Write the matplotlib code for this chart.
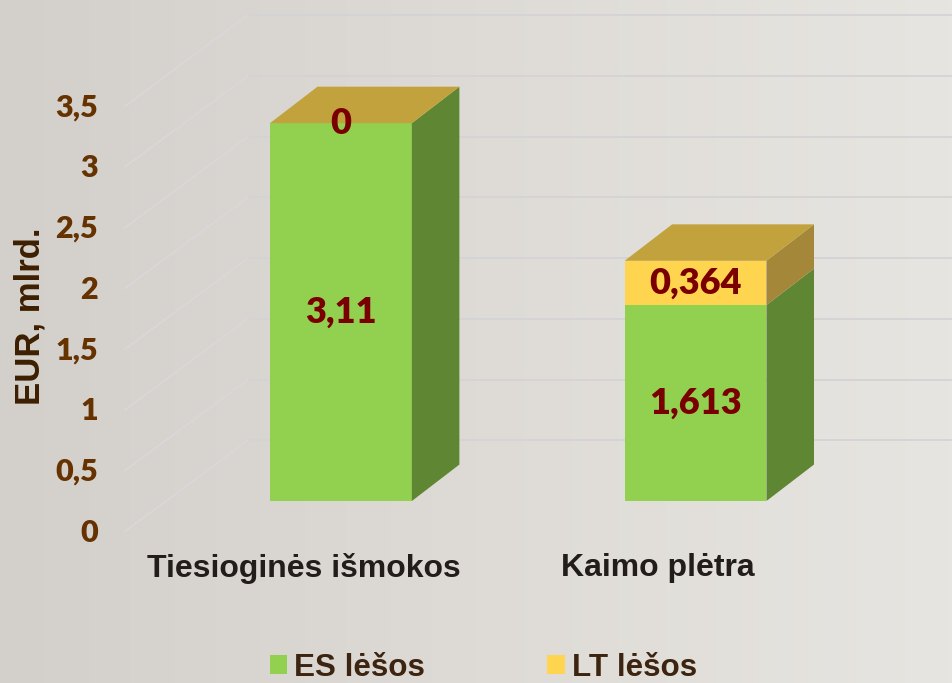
import numpy as np
import matplotlib.pyplot as plt
from matplotlib.patches import Polygon, Patch
from matplotlib.colors import LinearSegmentedColormap
from matplotlib.transforms import ScaledTranslation

categories = ['Tiesioginės išmokos', 'Kaimo plėtra']
es_values = [3.11, 1.613]
lt_values = [0.0, 0.364]
es_labels = ['3,11', '1,613']
lt_labels = ['0', '0,364']
y_ticks = [0, 0.5, 1, 1.5, 2, 2.5, 3, 3.5]
y_tick_labels = ['0', '0,5', '1', '1,5', '2', '2,5', '3', '3,5']
grid_values = [0.5, 1, 1.5, 2, 2.5, 3, 3.5, 4]
series_names = ['ES lėšos', 'LT lėšos']

ES_FRONT = '#92d050'
ES_SIDE = '#5f8733'
LT_FRONT = '#ffd44f'
LT_SIDE = '#a5873a'
TOP = '#c2a23d'
VALUE_COLOR = '#7a0000'
TICK_COLOR = '#653200'
ARIAL = 'Liberation Sans'

fig = plt.figure(figsize=(9.53, 6.83), dpi=100)

# slide-like background
bg = fig.add_axes([0, 0, 1, 1], zorder=-1)
cmap = LinearSegmentedColormap.from_list('bg', ['#d3cfca', '#dedbd6', '#e7e5e1'])
bg.imshow(np.linspace(0, 1, 256)[None, :], aspect='auto', cmap=cmap, extent=[0, 1, 0, 1])
bg.axis('off')

ax = fig.add_axes([125 / 953, (683 - 501) / 683, 828 / 953, 486 / 683])
ax.patch.set_alpha(0)
ax.set_xlim(-0.609, 1.726)
ax.set_ylim(0, 4.0)
for s in ax.spines.values():
    s.set_visible(False)

x = np.arange(len(categories))
width = 0.40
dx, dy = 0.134, 0.30  # depth of the boxes

# back wall and side wall gridlines
wall_x = -0.262
for v in grid_values:
    ax.plot([wall_x, ax.get_xlim()[1]], [v, v], color='#d4d3d5', lw=1.3, zorder=0, clip_on=False)
    ax.plot([ax.get_xlim()[0], wall_x], [v - 0.75, v], color='#d9d8da', lw=1.1, zorder=0, clip_on=False)

ax.bar(x, es_values, width, color=ES_FRONT, zorder=3)
ax.bar(x, lt_values, width, bottom=es_values, color=LT_FRONT, zorder=3)

for i in range(len(categories)):
    xr = x[i] + width / 2
    xl = x[i] - width / 2
    segs = [(0, es_values[i], ES_SIDE), (es_values[i], es_values[i] + lt_values[i], LT_SIDE)]
    for b, t, c in segs:
        if t - b <= 0:
            continue
        ax.add_patch(Polygon([(xr, b), (xr + dx, b + dy), (xr + dx, t + dy), (xr, t)],
                             closed=True, facecolor=c, edgecolor='none', zorder=3))
    top = es_values[i] + lt_values[i]
    ax.add_patch(Polygon([(xl, top), (xl + dx, top + dy), (xr + dx, top + dy), (xr, top)],
                         closed=True, facecolor=TOP, edgecolor='none', zorder=3))
    ax.text(x[i], es_values[i] / 2, es_labels[i], ha='center', va='center', color=VALUE_COLOR,
            fontsize=26, family='Lato', weight='heavy', zorder=5)
    ax.text(x[i], es_values[i] + lt_values[i] / 2, lt_labels[i], ha='center', va='center',
            color=VALUE_COLOR, fontsize=26, family='Lato', weight='heavy', zorder=5)

# y axis labels sit at the front edge of the floor
ax.set_yticks(y_ticks, y_tick_labels)
ax.tick_params(axis='y', length=0, pad=19.5, labelcolor=TICK_COLOR, labelsize=22)
for lab in ax.get_yticklabels():
    lab.set_family('Lato')
    lab.set_weight('heavy')
    lab.set_transform(lab.get_transform() + ScaledTranslation(0, -0.29, fig.dpi_scale_trans))

ax.set_xticks(x, categories)
ax.tick_params(axis='x', length=0, pad=0, labelcolor='#221d1a', labelsize=23)
for lab in ax.get_xticklabels():
    lab.set_family(ARIAL)
    lab.set_weight('bold')
    lab.set_va('center')
    lab.set_transform(lab.get_transform() + ScaledTranslation(-0.375, -0.67, fig.dpi_scale_trans))

fig.text(30 / 953, 1 - 316 / 683, 'EUR, mlrd.', rotation=90, ha='center', va='center',
         family=ARIAL, weight='bold', fontsize=25, color='#3d1f00')

handles = [Patch(facecolor=ES_FRONT), Patch(facecolor=LT_FRONT)]
fig.legend(handles, series_names, loc='lower left', bbox_to_anchor=(270 / 953, 0.0), ncol=2,
           frameon=False, prop=dict(family=ARIAL, weight='bold', size=22.6), labelcolor='#3c2410',
           handlelength=0.55, handleheight=0.55, handletextpad=0.22, columnspacing=3.9,
           borderpad=0, borderaxespad=0)

fig.savefig('out.png', dpi=100)
